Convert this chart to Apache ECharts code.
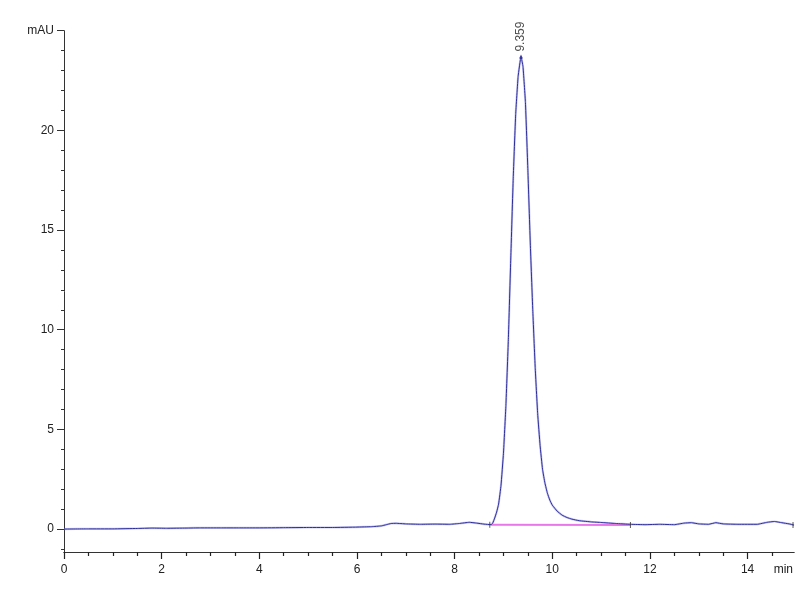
<!DOCTYPE html>
<html>
<head>
<meta charset="utf-8">
<script src="https://cdn.jsdelivr.net/npm/echarts@6/dist/echarts.min.js"></script>
<style>html,body{margin:0;padding:0;background:#fff}#c{width:800px;height:600px}</style>
</head>
<body>
<div id="c"></div>
<script>
// Retention time (min) and absorbance (mAU)
var times = [0,0.5,1.0,1.5,1.8,2.1,2.5,2.8,3.2,3.6,4.0,4.5,5.0,5.5,6.0,6.3,6.5,6.6,6.7,6.8,7.0,7.3,7.6,7.9,8.1,8.3,8.45,8.6,8.75,8.78,8.82,8.86,8.9,8.95,9.0,9.05,9.1,9.15,9.2,9.25,9.3,9.359,9.4,9.45,9.5,9.55,9.6,9.65,9.7,9.75,9.8,9.85,9.9,9.95,10.0,10.1,10.2,10.3,10.4,10.55,10.8,11.0,11.3,11.6,11.9,12.2,12.5,12.7,12.85,13.0,13.2,13.35,13.5,13.8,14.2,14.4,14.55,14.7,14.85,14.95];
var signal = [0.0,0.01,0.01,0.03,0.05,0.04,0.05,0.06,0.06,0.06,0.06,0.07,0.08,0.08,0.1,0.12,0.16,0.22,0.28,0.29,0.26,0.24,0.25,0.24,0.28,0.34,0.3,0.25,0.22,0.3,0.55,0.85,1.25,2.2,3.8,6.2,9.5,13.6,17.6,20.8,22.7,23.7,23.2,21.4,18.0,14.3,11.0,8.1,5.8,4.2,3.0,2.3,1.8,1.45,1.2,0.9,0.7,0.58,0.5,0.42,0.36,0.33,0.28,0.24,0.22,0.24,0.22,0.3,0.32,0.26,0.24,0.32,0.26,0.24,0.24,0.34,0.38,0.32,0.26,0.2];
// Integration baseline under the peak
var baseTimes = [8.75, 11.6];
var baseValues = [0.22, 0.21];
// Peak annotation
var peakTime = 9.359;
var peakValue = 23.7;
var peakLabel = '9.359';
// Axis ticks
var yMajor = [0,5,10,15,20,25];
var yMinor = [-1,1,2,3,4,6,7,8,9,11,12,13,14,16,17,18,19,21,22,23,24];
var xMajor = [0,2,4,6,8,10,12,14];
var xMinor = [0.5,1,1.5,2.5,3,3.5,4.5,5,5.5,6.5,7,7.5,8.5,9,9.5,10.5,11,11.5,12.5,13,13.5,14.5];
var yUnit = 'mAU';
var xUnit = 'min';

var lineData = times.map(function(t,i){return [t, signal[i]];});
var baseData = baseTimes.map(function(t,i){return [t, baseValues[i]];});
var FONT = '"Liberation Sans Narrow","Arial Narrow","Liberation Sans",Arial,sans-serif';
var AX = '#333';
var yMin = -1.15, yMax = 25, xMin = 0, xMax = 14.95;

var chart = echarts.init(document.getElementById('c'), null, {renderer:'canvas'});
chart.setOption({
  animation: false,
  backgroundColor: '#fff',
  grid: {left: 64, right: 6, top: 30.7, bottom: 48, containLabel: false},
  xAxis: [{
    type: 'value', min: xMin, max: xMax, position: 'bottom',
    axisLine: {show: true, onZero: false, lineStyle: {color: AX, width: 1}},
    axisTick: {show: true, length: 7, inside: false, customValues: xMajor, lineStyle: {color: '#222', width: 1.2}},
    axisLabel: {show: true, customValues: xMajor, margin: 12, color: '#222', fontSize: 12, fontFamily: FONT},
    splitLine: {show: false},
    name: xUnit, nameLocation: 'end', nameGap: -1,
    nameTextStyle: {align: 'right', verticalAlign: 'top', padding: [12,0,0,0], color: '#222', fontSize: 12, fontFamily: FONT}
  },{
    type: 'value', min: xMin, max: xMax, position: 'bottom', offset: 0,
    axisLine: {show: true, onZero: false, lineStyle: {color: AX, width: 1}},
    axisTick: {show: true, length: 4, customValues: xMinor, lineStyle: {color: '#222', width: 1.2}},
    axisLabel: {show: false},
    splitLine: {show: false}
  }],
  yAxis: [{
    type: 'value', min: yMin, max: yMax, position: 'left',
    axisLine: {show: true, onZero: false, lineStyle: {color: AX, width: 1}},
    axisTick: {show: true, length: 7, customValues: yMajor, lineStyle: {color: AX}},
    axisLabel: {show: true, customValues: yMajor, margin: 10, color: '#222', fontSize: 12, fontFamily: FONT,
      formatter: function(v){ return v === 25 ? yUnit : String(v); }},
    splitLine: {show: false}
  },{
    type: 'value', min: yMin, max: yMax, position: 'left',
    axisLine: {show: false, onZero: false},
    axisTick: {show: true, length: 3, customValues: yMinor, lineStyle: {color: AX}},
    axisLabel: {show: false},
    splitLine: {show: false}
  }],
  series: [{
    type: 'line', data: lineData, xAxisIndex: 0, yAxisIndex: 0,
    showSymbol: false, smooth: 0.1, silent: true, z: 2,
    lineStyle: {color: 'rgba(140,140,230,0.45)', width: 2.2}
  },{
    type: 'line', data: baseData, xAxisIndex: 0, yAxisIndex: 0,
    showSymbol: false, silent: true, z: 3,
    lineStyle: {color: '#e878e8', width: 2}
  },{
    type: 'line', data: lineData, xAxisIndex: 0, yAxisIndex: 0,
    showSymbol: false, smooth: 0.1, silent: true, z: 4,
    lineStyle: {color: '#2e2e9a', width: 1}
  },{
    type: 'scatter', xAxisIndex: 0, yAxisIndex: 0, z: 5, silent: true,
    data: [[peakTime, peakValue]],
    symbol: 'triangle', symbolSize: 4, itemStyle: {color: '#2e2e9a'},
    label: {show: true, formatter: peakLabel, position: 'top', distance: 3, rotate: 90,
      align: 'left', verticalAlign: 'middle', color: '#222', fontSize: 12, fontFamily: FONT}
  },{
    type: 'scatter', xAxisIndex: 0, yAxisIndex: 0, z: 5, silent: true,
    data: [[baseTimes[0]-0.03, baseValues[0]], [baseTimes[1], baseValues[1]], [xMax-0.02, signal[signal.length-1]]],
    symbol: 'rect', symbolSize: [1, 6], itemStyle: {color: '#333'}
  }]
});
</script>
</body>
</html>
